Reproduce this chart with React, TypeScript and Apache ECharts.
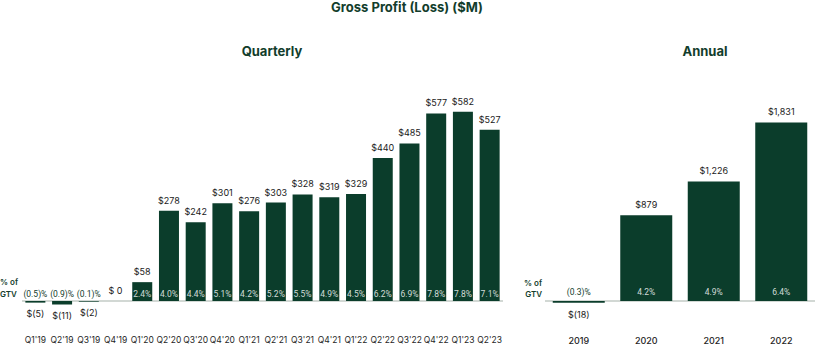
import React, { useEffect, useRef } from "react";
import * as echarts from "echarts";

const quarters = ["Q1'19", "Q2'19", "Q3'19", "Q4'19", "Q1'20", "Q2'20", "Q3'20", "Q4'20", "Q1'21", "Q2'21", "Q3'21", "Q4'21", "Q1'22", "Q2'22", "Q3'22", "Q4'22", "Q1'23", "Q2'23"];
const quarterlyProfit = [-5, -11, -2, 0, 58, 278, 242, 301, 276, 303, 328, 319, 329, 440, 485, 577, 582, 527];
const quarterlyPctGTV: (number | null)[] = [-0.5, -0.9, -0.1, null, 2.4, 4.0, 4.4, 5.1, 4.2, 5.2, 5.5, 4.9, 4.5, 6.2, 6.9, 7.8, 7.8, 7.1];
const years = ["2019", "2020", "2021", "2022"];
const annualProfit = [-18, 879, 1226, 1831];
const annualPctGTV: (number | null)[] = [-0.3, 4.2, 4.9, 6.4];

const GREEN = "#0b3d2b";
const TEXT_GREEN = "#123d2c";
const FONT = "Inter, 'Noto Sans', sans-serif";
const NARROW = "Roboto, 'Noto Sans', sans-serif";

const fmtMoney = (v: number) =>
  v < 0 ? `$(${Math.abs(v).toLocaleString("en-US")})` : v === 0 ? "$ 0" : `$${v.toLocaleString("en-US")}`;
const fmtPct = (p: number) => (p < 0 ? `(${Math.abs(p).toFixed(1)})%` : `${p.toFixed(1)}%`);

function valueSeries(values: number[], axis: number, barWidth: number, distTop: number, distBottom: number) {
  return {
    type: "bar",
    xAxisIndex: axis,
    yAxisIndex: axis,
    barWidth,
    z: 2,
    data: values.map((v) => ({
      value: v,
      label: { position: v < 0 ? "bottom" : "top", distance: v < 0 ? distBottom : distTop },
    })),
    itemStyle: { color: GREEN },
    label: {
      show: true,
      fontFamily: FONT,
      fontSize: 9,
      color: "#1a1a1a",
      formatter: (p: any) => fmtMoney(p.value),
    },
    markLine: {
      silent: true,
      symbol: "none",
      label: { show: false },
      lineStyle: { color: "#c3cbc6", width: 1.5, type: "solid" },
      data: [{ yAxis: 0 }],
      z: 1,
    },
  };
}

function pctSeries(values: number[], pcts: (number | null)[], axis: number, barWidth: number, dist: number) {
  return {
    type: "bar",
    xAxisIndex: axis,
    yAxisIndex: axis,
    barWidth,
    barGap: "-100%",
    z: 3,
    itemStyle: { color: "rgba(0,0,0,0)" },
    data: values.map((v, i) => {
      const p = pcts[i];
      return {
        value: v,
        label:
          p === null
            ? { show: false }
            : v > 0
            ? { show: true, position: "insideBottom", distance: dist, color: "rgba(255,255,255,0.82)", formatter: fmtPct(p) }
            : { show: true, position: "top", distance: dist, color: TEXT_GREEN, formatter: fmtPct(p) },
      };
    }),
    label: { show: true, fontFamily: NARROW, fontSize: 8.5 },
  };
}

export default function App() {
  const ref = useRef<HTMLDivElement>(null);
  useEffect(() => {
    if (!ref.current) return;
    const chart = echarts.init(ref.current, null, { renderer: "svg" });
    const axisLabel = { fontFamily: FONT, fontSize: 8.5, color: "#1f1f1f", margin: 2, interval: 0 };
    chart.setOption({
      animation: false,
      grid: [
        { left: 22, right: 312, top: 106, height: 227.5 },
        { left: 545, right: 0, top: 106, height: 227.5 },
      ],
      xAxis: [
        { type: "category", gridIndex: 0, data: quarters, axisLine: { show: false }, axisTick: { show: false }, axisLabel },
        { type: "category", gridIndex: 1, data: years, axisLine: { show: false }, axisTick: { show: false }, axisLabel: { ...axisLabel, fontSize: 9, fontWeight: 500 } },
      ],
      yAxis: [
        { type: "value", gridIndex: 0, min: -100, max: 600, show: false },
        { type: "value", gridIndex: 1, min: -1000 / 3, max: 2000, show: false },
      ],
      series: [
        valueSeries(quarterlyProfit, 0, 20, 6, 6),
        pctSeries(quarterlyProfit, quarterlyPctGTV, 0, 20, 3),
        valueSeries(annualProfit, 1, 52, 6, 7),
        pctSeries(annualProfit, annualPctGTV, 1, 52, 4.5),
      ],
      graphic: [
        { type: "text", x: 407, y: 7, style: { text: "Gross Profit (Loss) ($M)", font: `bold 13px ${FONT}`, fill: TEXT_GREEN, textAlign: "center", textVerticalAlign: "middle" } },
        { type: "text", x: 272, y: 51, style: { text: "Quarterly", font: `bold 13px ${FONT}`, fill: TEXT_GREEN, textAlign: "center", textVerticalAlign: "middle" } },
        { type: "text", x: 705, y: 51, style: { text: "Annual", font: `bold 13px ${FONT}`, fill: TEXT_GREEN, textAlign: "center", textVerticalAlign: "middle" } },
        { type: "text", x: 0, y: 281.5, style: { text: "% of", font: `600 8px ${FONT}`, fill: TEXT_GREEN, textAlign: "left", textVerticalAlign: "middle" } },
        { type: "text", x: 0, y: 293.5, style: { text: "GTV", font: `600 8px ${FONT}`, fill: TEXT_GREEN, textAlign: "left", textVerticalAlign: "middle" } },
        { type: "text", x: 542, y: 282.5, style: { text: "% of", font: `600 8px ${FONT}`, fill: TEXT_GREEN, textAlign: "right", textVerticalAlign: "middle" } },
        { type: "text", x: 542, y: 293.5, style: { text: "GTV", font: `600 8px ${FONT}`, fill: TEXT_GREEN, textAlign: "right", textVerticalAlign: "middle" } },
      ],
    });
    return () => chart.dispose();
  }, []);
  return <div ref={ref} style={{ position: "absolute", left: 0, top: 0, width: 815, height: 347, background: "#fff" }} />;
}
